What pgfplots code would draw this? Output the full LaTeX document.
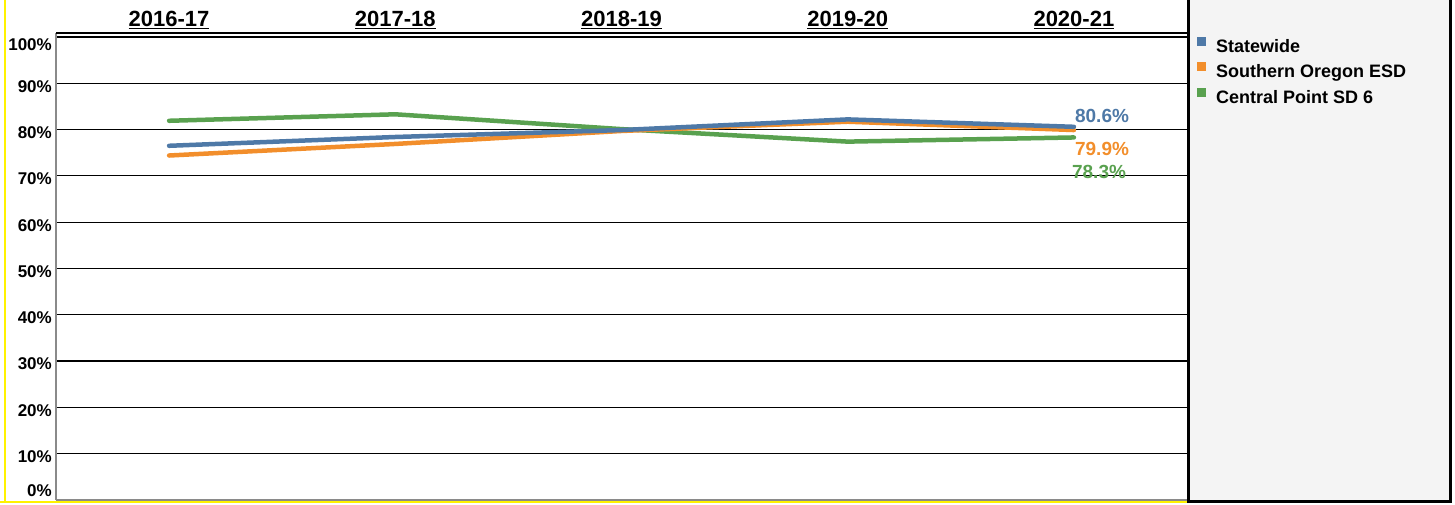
\documentclass[border=0pt]{standalone}
\usepackage{fontspec}
\setmainfont{Liberation Sans}
\usepackage{pgfplots}
\pgfplotsset{compat=1.18}
\definecolor{stw}{HTML}{4E79A7}
\definecolor{soe}{HTML}{F28E2B}
\definecolor{cpd}{HTML}{59A14F}
\definecolor{panel}{HTML}{F4F4F4}
\definecolor{axgray}{HTML}{8A8A8A}

\begin{document}
\begin{tikzpicture}[x=1pt,y=1pt]
\useasboundingbox (0,0) rectangle (1455,504);
% legend panel on the right
\fill[panel] (1189,3) rectangle (1450,510);
\draw[black, line width=3pt] (1188.5,510) -- (1188.5,2.5) -- (1450,2.5) -- (1450,510);
% yellow frame on the left and bottom
\draw[yellow, line width=2pt] (5,504) -- (5,1);
\draw[yellow, line width=2pt] (0,1.8) -- (1187,1.8);

\begin{axis}[
	at={(56pt,4pt)}, anchor=south west,
	scale only axis,
	width=1131pt, height=467pt,
	xmin=-0.5, xmax=4.5,
	ymin=0, ymax=100.86,
	clip=false,
	axis line style={draw=none},
	major tick length=0pt,
	xtick={0,1,2,3,4},
	xticklabels={\underline{2016-17},\underline{2017-18},\underline{2018-19},\underline{2019-20},\underline{2020-21}},
	xticklabel pos=upper,
	xticklabel style={anchor=base, inner sep=0pt, yshift=6pt, font=\fontsize{22}{26}\selectfont\bfseries},
	ytick={0,10,20,30,40,50,60,70,80,90,100},
	yticklabels={,10\%,20\%,30\%,40\%,50\%,60\%,70\%,80\%,90\%,},
	yticklabel style={anchor=east, inner sep=0pt, xshift=-4pt, yshift=-3pt, font=\fontsize{17}{20}\selectfont\bfseries},
	ymajorgrids=true,
	grid style={black, line width=1.2pt},
	legend cell align=left,
	reverse legend,
	legend image code/.code={\fill[#1, draw=none] (0pt,2pt) rectangle (9pt,11pt);},
	legend style={draw=none, fill=none, at={(axis description cs:1,1)}, anchor=north west,
		xshift=10pt, yshift=-3.5pt, inner sep=0pt, row sep=6pt,
		font=\fontsize{18}{22}\selectfont\bfseries,
		nodes={text height=13pt, text depth=4pt, inner ysep=0pt, inner xsep=10pt}},
	every axis plot/.append style={line width=4.5pt, line cap=round, line join=round},
]

	% Central Point SD 6
	\addplot[color=cpd] coordinates{
		(0,81.9) (1,83.3) (2,80.1) (3,77.4) (4,78.3)};
	\addlegendentry{Central Point SD 6}

	% Southern Oregon ESD
	\addplot[color=soe] coordinates{
		(0,74.4) (1,76.9) (2,79.7) (3,81.7) (4,79.9)};
	\addlegendentry{Southern Oregon ESD}

	% Statewide
	\addplot[color=stw] coordinates{
		(0,76.5) (1,78.4) (2,79.9) (3,82.2) (4,80.6)};
	\addlegendentry{Statewide}

	% frame of the plot area
	\draw[axgray, line width=2pt] (rel axis cs:0,0) -- (rel axis cs:0,1);
	\draw[axgray, line width=2pt] (rel axis cs:0,0) -- (rel axis cs:1,0);
	\draw[black, line width=2pt] (rel axis cs:0,1) -- (rel axis cs:1,1);

	% edge tick labels pushed inside
	\node[anchor=east, inner sep=0pt, xshift=-4pt, yshift=9pt, font=\fontsize{17}{20}\selectfont\bfseries] at (axis cs:-0.5,0) {0\%};
	\node[anchor=east, inner sep=0pt, xshift=-4pt, yshift=-8pt, font=\fontsize{17}{20}\selectfont\bfseries] at (axis cs:-0.5,100) {100\%};

	% end-of-line value labels
	\node[stw, anchor=west, inner sep=0pt, xshift=1pt, yshift=11pt, font=\fontsize{19}{22}\selectfont\bfseries] at (axis cs:4,80.6) {80.6\%};
	\node[soe, anchor=west, inner sep=0pt, xshift=1pt, yshift=-19pt, font=\fontsize{19}{22}\selectfont\bfseries] at (axis cs:4,79.9) {79.9\%};
	\node[cpd, anchor=west, inner sep=0pt, xshift=-2pt, yshift=-35pt, font=\fontsize{19}{22}\selectfont\bfseries] at (axis cs:4,78.3) {78.3\%};
\end{axis}
\end{tikzpicture}
\end{document}
